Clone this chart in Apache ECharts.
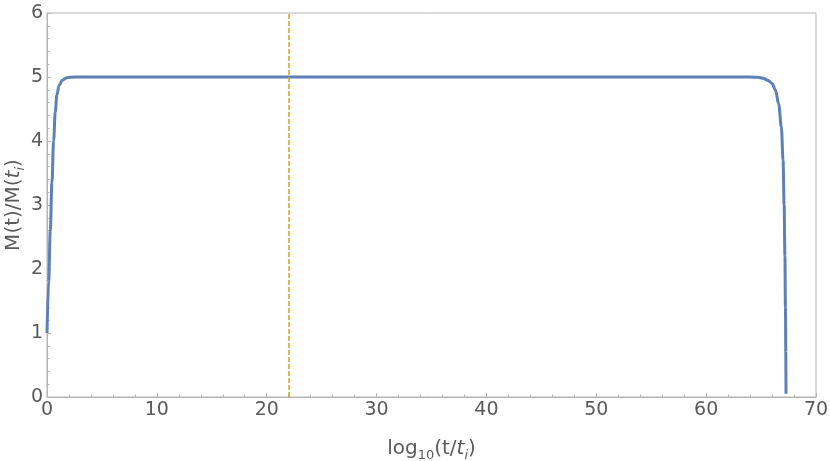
<!DOCTYPE html>
<html>
<head>
<meta charset="utf-8">
<script src="https://cdn.jsdelivr.net/npm/echarts@6/dist/echarts.min.js"></script>
<style>
  html, body { margin: 0; padding: 0; background: #fff; }
  #main { width: 830px; height: 461px; }
</style>
</head>
<body>
<div id="main"></div>
<script>
// curve: log10(t/ti) -> M(t)/M(ti)
var logT = [0, 0.15, 0.3, 0.45, 0.6, 0.75, 0.9, 1.1, 1.4, 1.8, 2.5, 10, 30, 50, 64, 64.7, 65.2, 65.6, 66.0, 66.3, 66.6, 66.85, 67.0, 67.1, 67.17, 67.22, 67.25, 67.27];
var massRatio = [1, 1.8, 2.6, 3.35, 4.0, 4.45, 4.72, 4.87, 4.95, 4.99, 5, 5, 5, 5, 5, 4.995, 4.98, 4.95, 4.9, 4.8, 4.58, 4.22, 3.7, 3.0, 2.2, 1.4, 0.7, 0.05];
var markX = 22;
var xTicks = [0, 10, 20, 30, 40, 50, 60, 70];
var yTicks = [0, 1, 2, 3, 4, 5, 6];

var points = logT.map(function (x, i) { return [x, massRatio[i]]; });

var font = 'DejaVu Sans';
var labelColor = '#5a5a5a';
var frameColor = '#b4b4b4';

var nameRich = {
    sub: { fontFamily: font, fontSize: 13, color: labelColor, padding: [13, 0, 0, 0] },
    subIt: { fontFamily: font, fontSize: 13, fontStyle: 'italic', color: labelColor, padding: [13, 0, 0, 0] },
    it: { fontFamily: font, fontSize: 20, fontStyle: 'italic', color: labelColor }
};

var chart = echarts.init(document.getElementById('main'));
var option = {
    animation: false,
    grid: {
        left: 47, right: 14, top: 13, bottom: 64,
        outerBoundsMode: 'none',
        containLabel: false,
        show: true, borderColor: frameColor, borderWidth: 1
    },
    xAxis: {
        type: 'value',
        min: xTicks[0], max: xTicks[xTicks.length - 1], interval: 10,
        name: 'log{sub|10}(t/{it|t}{subIt|i})',
        nameLocation: 'middle',
        nameGap: 39,
        nameMoveOverlap: false,
        nameTextStyle: { fontFamily: font, fontSize: 20, color: labelColor, rich: nameRich },
        axisLine: { show: true, lineStyle: { color: frameColor } },
        axisTick: { show: true, inside: true, length: 4, lineStyle: { color: frameColor } },
        minorTick: { show: true, splitNumber: 5, length: 2.5, lineStyle: { color: frameColor } },
        splitLine: { show: false },
        axisLabel: { fontFamily: font, fontSize: 19, color: labelColor, margin: 4 }
    },
    yAxis: {
        type: 'value',
        min: yTicks[0], max: yTicks[yTicks.length - 1], interval: 1,
        name: 'M(t)/M({it|t}{subIt|i})',
        nameLocation: 'middle',
        nameGap: 20,
        nameMoveOverlap: false,
        nameTextStyle: { fontFamily: font, fontSize: 20, color: labelColor, rich: nameRich },
        axisLine: { show: true, lineStyle: { color: frameColor } },
        axisTick: { show: true, inside: true, length: 4, lineStyle: { color: frameColor } },
        minorTick: { show: true, splitNumber: 5, length: 2.5, lineStyle: { color: frameColor } },
        splitLine: { show: false },
        axisLabel: { fontFamily: font, fontSize: 19, color: labelColor, margin: 4 }
    },
    series: [{
        type: 'line',
        data: points,
        showSymbol: false,
        smooth: 0.35,
        smoothMonotone: 'x',
        lineStyle: { color: '#5e81b5', width: 3 },
        markLine: {
            silent: true,
            symbol: ['none', 'none'],
            label: { show: false },
            lineStyle: { color: '#e19c24', width: 1.5, type: [5, 2] },
            data: [{ xAxis: markX }]
        }
    }]
};
chart.setOption(option);
</script>
</body>
</html>
